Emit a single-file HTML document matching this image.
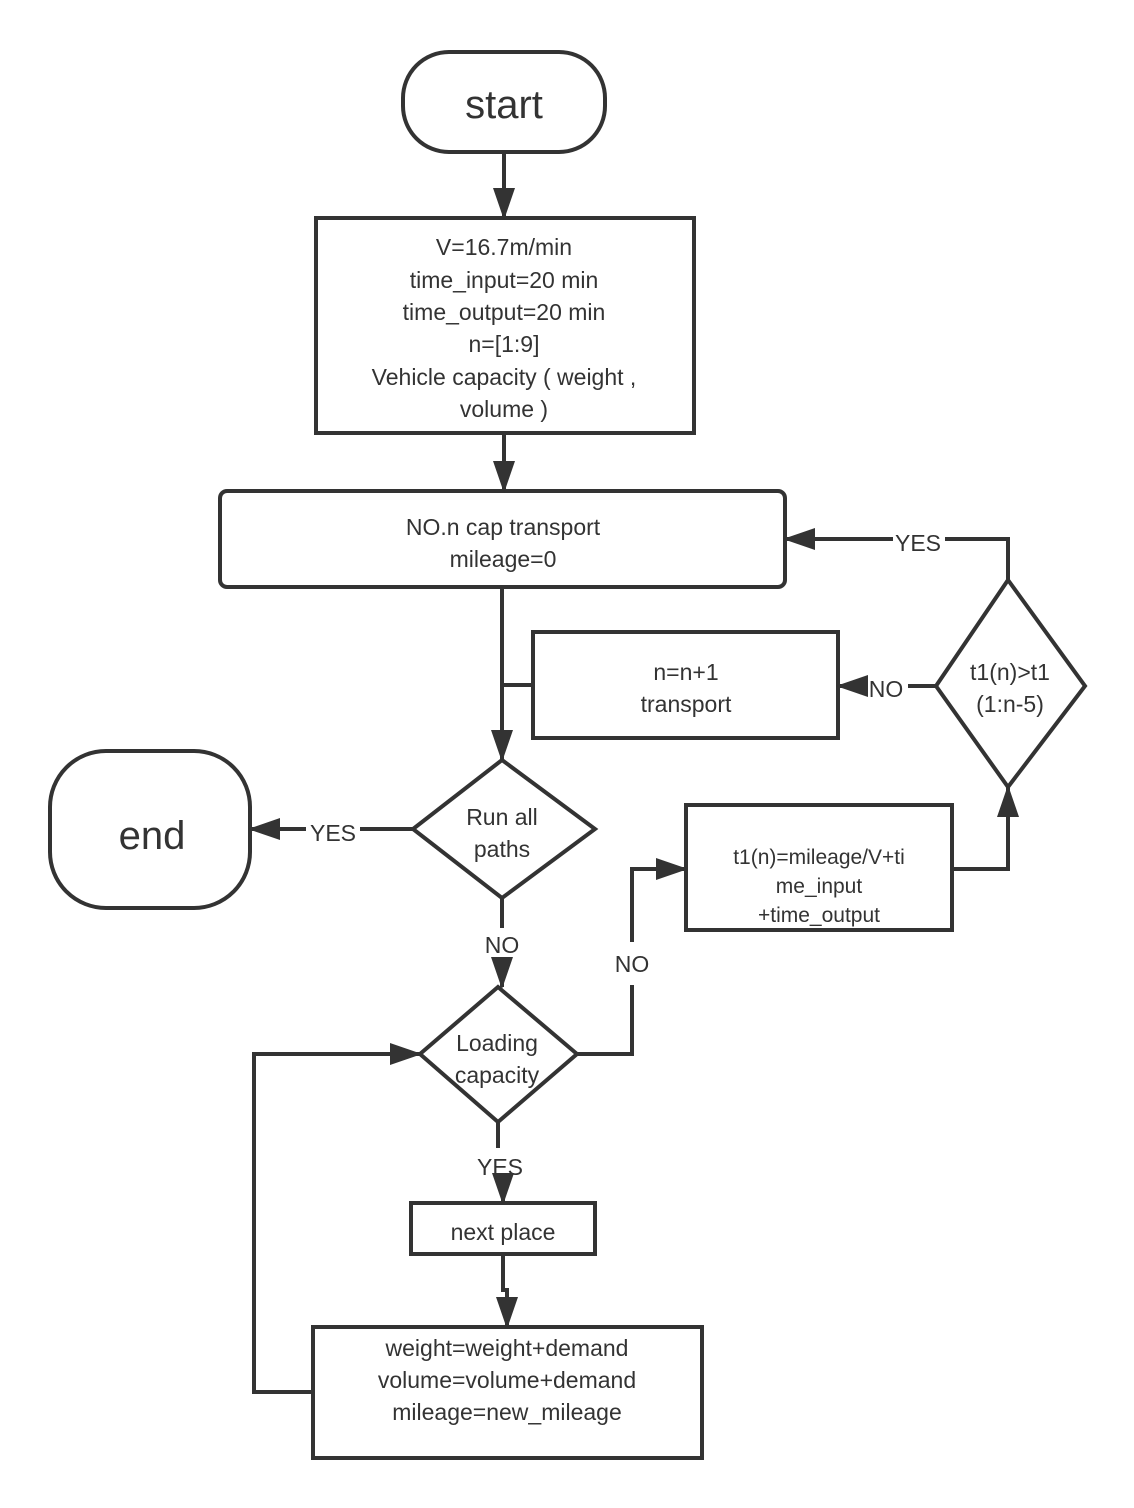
<!DOCTYPE html>
<html><head><meta charset="utf-8"><style>html,body{margin:0;padding:0;background:#fff}svg{display:block}text{font-family:"Liberation Sans","Noto Sans CJK SC",sans-serif;fill:#333;text-anchor:middle}</style></head><body>
<svg width="1134" height="1508" viewBox="0 0 1134 1508" xmlns="http://www.w3.org/2000/svg">
<defs><marker id="a" markerWidth="10" markerHeight="10" refX="9" refY="5" orient="auto" markerUnits="userSpaceOnUse" viewBox="0 0 10 10"><path d="M0,0 L10,5 L0,10 z" fill="#333"/></marker>
<marker id="b" markerWidth="32" markerHeight="22" refX="30" refY="11" orient="auto" markerUnits="userSpaceOnUse"><path d="M0,0 L32,11 L0,22 z" fill="#333"/></marker></defs>
<g fill="none" stroke="#333" stroke-width="4">
<rect x="403" y="52" width="202" height="100" rx="46"/>
<rect x="316" y="218" width="378" height="215"/>
<rect x="220" y="491" width="565" height="96" rx="7"/>
<rect x="533" y="632" width="305" height="106"/>
<path d="M502,760 L595,829 L502,898 L413,829 Z"/>
<rect x="50" y="751" width="200" height="157" rx="56"/>
<path d="M498,987 L577,1054 L498,1122 L420,1054 Z"/>
<rect x="686" y="805" width="266" height="125"/>
<path d="M1008,580 L1085,686 L1008,787 L936,686 Z"/>
<rect x="411" y="1203" width="184" height="51"/>
<rect x="313" y="1327" width="389" height="131"/>
<path d="M504,152 L504,218" marker-end="url(#b)"/>
<path d="M504,433 L504,491" marker-end="url(#b)"/>
<path d="M502,587 L502,760" marker-end="url(#b)"/>
<path d="M533,685 L502,685"/>
<path d="M413,829 L360,829 M306,829 L250,829" marker-end="url(#b)"/>
<path d="M502,898 L502,928 M502,962 L502,987" marker-end="url(#b)"/>
<path d="M577,1054 L632,1054 L632,985 M632,942 L632,869 L686,869" marker-end="url(#b)"/>
<path d="M952,869 L1008,869 L1008,787" marker-end="url(#b)"/>
<path d="M1008,580 L1008,539 L945,539 M893,539 L785,539" marker-end="url(#b)"/>
<path d="M936,686 L908,686 M866,686 L838,686" marker-end="url(#b)"/>
<path d="M498,1122 L498,1148 M503,1185 L503,1203" marker-end="url(#b)"/>
<path d="M503,1254 L503,1290 L507,1290 L507,1327" marker-end="url(#b)"/>
<path d="M313,1392 L254,1392 L254,1054 L420,1054" marker-end="url(#b)"/>
</g>
<text x="504" y="118" font-size="40">start</text>
<text x="152" y="849" font-size="40">end</text>
<g font-size="23">
<text x="504" y="255">V=16.7m/min</text>
<text x="504" y="288">time_input=20 min</text>
<text x="504" y="320">time_output=20 min</text>
<text x="504" y="352">n=[1:9]</text>
<text x="504" y="385">Vehicle capacity ( weight ,</text>
<text x="504" y="417">volume )</text>
<text x="503" y="535">NO.n cap transport</text>
<text x="503" y="567">mileage=0</text>
<text x="686" y="680">n=n+1</text>
<text x="686" y="712">transport</text>
<text x="502" y="825">Run all</text>
<text x="502" y="857">paths</text>
<text x="333" y="841">YES</text>
<text x="502" y="953">NO</text>
<text x="632" y="972">NO</text>
<text x="497" y="1051">Loading</text>
<text x="497" y="1083">capacity</text>
<text x="500" y="1175">YES</text>
<text x="503" y="1240">next place</text>
<text x="507" y="1356">weight=weight+demand</text>
<text x="507" y="1388">volume=volume+demand</text>
<text x="507" y="1420">mileage=new_mileage</text>
<text x="1010" y="680">t1(n)&gt;t1</text>
<text x="1010" y="712">(1:n-5)</text>
<text x="918" y="551">YES</text>
<text x="886" y="697">NO</text>
</g>
<g font-size="21">
<text x="819" y="864">t1(n)=mileage/V+ti</text>
<text x="819" y="893">me_input</text>
<text x="819" y="922">+time_output</text>
</g>
</svg>
</body></html>
